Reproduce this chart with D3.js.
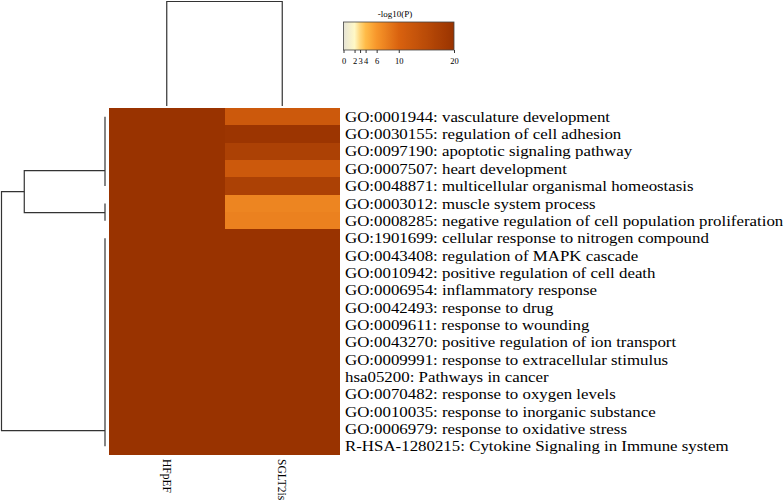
<!DOCTYPE html>
<html><head><meta charset="utf-8">
<script src="https://cdn.jsdelivr.net/npm/d3@7"></script>
<style>body{margin:0;background:#fff}svg{display:block}text{font-family:"Liberation Serif","Times New Roman",serif;fill:#000}</style>
</head><body><svg id="c" width="784" height="501"></svg>
<script>
const terms = [
"GO:0001944: vasculature development",
"GO:0030155: regulation of cell adhesion",
"GO:0097190: apoptotic signaling pathway",
"GO:0007507: heart development",
"GO:0048871: multicellular organismal homeostasis",
"GO:0003012: muscle system process",
"GO:0008285: negative regulation of cell population proliferation",
"GO:1901699: cellular response to nitrogen compound",
"GO:0043408: regulation of MAPK cascade",
"GO:0010942: positive regulation of cell death",
"GO:0006954: inflammatory response",
"GO:0042493: response to drug",
"GO:0009611: response to wounding",
"GO:0043270: positive regulation of ion transport",
"GO:0009991: response to extracellular stimulus",
"hsa05200: Pathways in cancer",
"GO:0070482: response to oxygen levels",
"GO:0010035: response to inorganic substance",
"GO:0006979: response to oxidative stress",
"R-HSA-1280215: Cytokine Signaling in Immune system"];
const columns = ["HFpEF","SGLT2is"];
const hfpefVals = [20,20,20,20,20,20,20,20,20,20,20,20,20,20,20,20,20,20,20,20];
const sglt2Vals = [12,19.5,17,12,17,7.3,7.6,20,20,20,20,20,20,20,20,20,20,20,20,20];
const legendTicks = [0,2,3,4,6,10,20];
const legendColors = ["#e6e4d6","#fff8c6","#ffd67a","#ffbb48","#f7962a","#d9620f","#993300"];
// row clusters: first/last row index (0-based), anchor in row units
const rowGroups = [{first:0,last:4,anchor:3.61},{first:5,last:6,anchor:6.03},{first:7,last:19,anchor:18.6}];
const rowNodeA = {children:[0,1], height:0.78};
const rowRoot = {height:1.0};
const colTreeHeight = 1.0;

const svg = d3.select("#c");
const x = d3.scaleBand().domain(columns).range([109,340]);
const y = d3.scaleBand().domain(terms).range([108,455]);
const yRow = d3.scaleLinear().domain([0,terms.length]).range([108,455]);
const color = d3.scaleLinear().domain(legendTicks).range(legendColors).clamp(true);

const cells = [];
terms.forEach((t,i)=>{cells.push({t,c:columns[0],v:hfpefVals[i]});cells.push({t,c:columns[1],v:sglt2Vals[i]});});
svg.append("g").attr("shape-rendering","crispEdges").selectAll("rect").data(cells).join("rect")
  .attr("x",d=>x(d.c)).attr("y",d=>y(d.t))
  .attr("width",x.bandwidth()).attr("height",y.bandwidth())
  .attr("fill",d=>color(d.v));

svg.append("g").selectAll("text").data(terms).join("text")
  .attr("transform",d=>`translate(345,${y(d)+y.bandwidth()/2}) scale(1.156,1)`)
  .attr("dy","0.35em")
  .attr("font-size","14.6px").text(d=>d);

// column labels
svg.append("g").selectAll("text").data(columns).join("text")
  .attr("transform",d=>`translate(${x(d)+x.bandwidth()/2-4},459) rotate(90)`)
  .attr("font-size","11.5px").text(d=>d);

// top dendrogram
const hTop = d3.scaleLinear().domain([0,colTreeHeight]).range([106,1.5]);
const tg = svg.append("g").attr("stroke","#333").attr("fill","none").attr("stroke-width",1.2);
const cx = columns.map(c=>x(c)+x.bandwidth()/2);
tg.append("path").attr("d",`M${cx[0]},${hTop(0)}V${hTop(colTreeHeight)}H${cx[1]}V${hTop(0)}`);

// left dendrogram
const hLeft = d3.scaleLinear().domain([0,rowRoot.height]).range([105,1.5]);
const lg = svg.append("g").attr("stroke","#333").attr("fill","none").attr("stroke-width",1.2);
rowGroups.forEach(g=>{
  lg.append("line").attr("x1",hLeft(0)).attr("x2",hLeft(0))
    .attr("y1",yRow(g.first+0.5)).attr("y2",yRow(g.last+0.5));
});
const a0 = rowGroups[0].anchor, a1 = rowGroups[1].anchor, a2 = rowGroups[2].anchor;
const aA = (a0+a1)/2;
lg.append("path").attr("d",`M${hLeft(0)},${yRow(a0)}H${hLeft(rowNodeA.height)}V${yRow(a1)}H${hLeft(0)}`);
lg.append("path").attr("d",`M${hLeft(rowNodeA.height)},${yRow(aA)}H${hLeft(rowRoot.height)}V${yRow(a2)}H${hLeft(0)}`);

// legend
const lx = d3.scaleLinear().domain([0,20]).range([343.5,454]);
const defs = svg.append("defs");
const grad = defs.append("linearGradient").attr("id","lg");
d3.range(0,20.01,0.5).forEach(v=>grad.append("stop").attr("offset",(v/20*100)+"%").attr("stop-color",color(v)));
const leg = svg.append("g");
leg.append("rect").attr("x",lx(0)).attr("y",22).attr("width",lx(20)-lx(0)).attr("height",28)
  .attr("fill","url(#lg)").attr("stroke","#444").attr("stroke-width",0.8);
const ax = d3.axisBottom(lx).tickValues(legendTicks).tickSize(3).tickFormat(d3.format("d"));
const axg = leg.append("g").attr("transform","translate(0,50)").call(ax);
axg.select(".domain").remove();
axg.selectAll("text").attr("font-size","8.5px").attr("font-family","Liberation Serif").attr("dy","0.95em");
axg.selectAll("line").attr("stroke","#333");
leg.append("text").attr("x",395).attr("y",17).attr("text-anchor","middle")
  .attr("font-family","Liberation Sans, Arial, sans-serif").attr("font-size","9px").text("-log10(P)");
</script></body></html>
